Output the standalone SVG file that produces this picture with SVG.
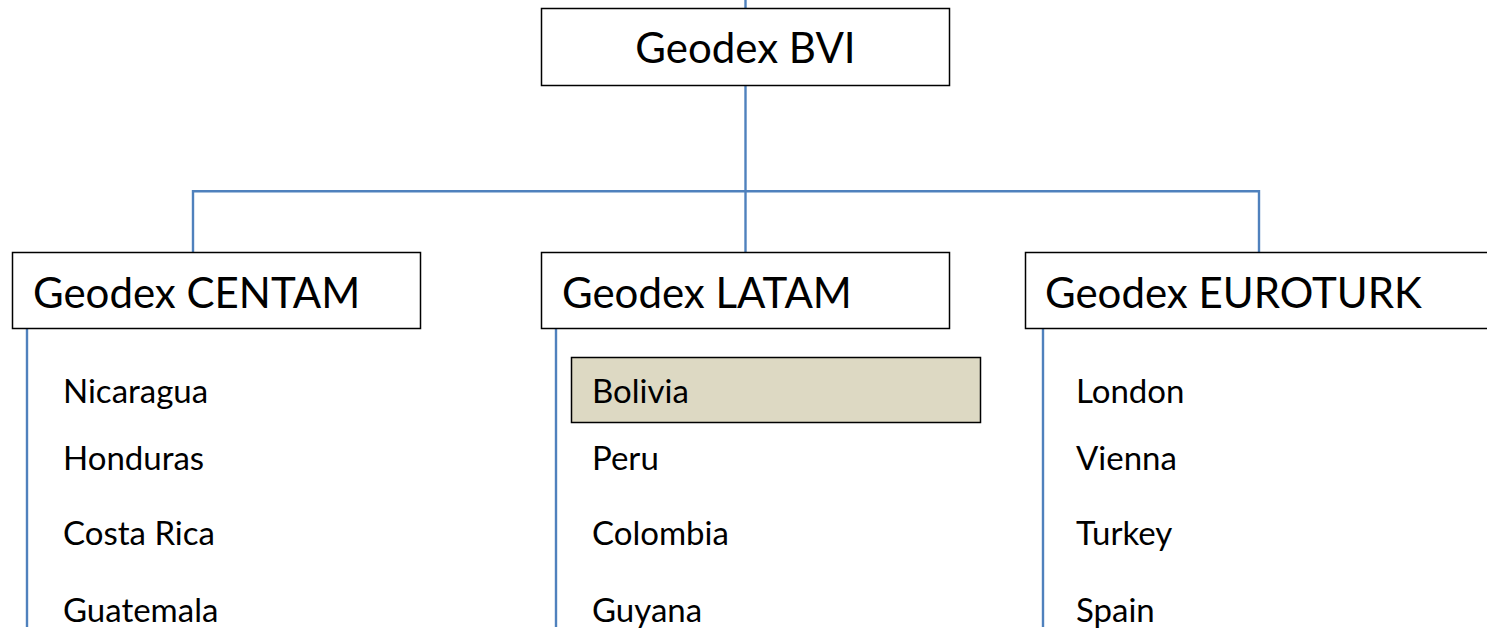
<svg xmlns="http://www.w3.org/2000/svg" width="1487" height="632" viewBox="0 0 1487 632">
<style>
.box{fill:#ffffff;stroke:#000000;stroke-width:1.5}
.hl{fill:#ddd9c3;stroke:#000000;stroke-width:1.5}
.hdr{font-family:Lato,"Open Sans",sans-serif;font-size:42px;fill:#000000}
.item{font-family:Lato,"Open Sans",sans-serif;font-size:33px;fill:#000000}
.conn{fill:none;stroke:#4f81bd;stroke-width:2.4}
</style>
<rect width="1487" height="632" fill="#ffffff"/>
<g id="connectors">
<path class="conn" d="M745.5 0 V8"/>
<path class="conn" d="M745.5 86 V252"/>
<path class="conn" d="M193 252 V191.3 H1259 V252"/>
<path class="conn" d="M27 329 V627"/>
<path class="conn" d="M556 329 V627"/>
<path class="conn" d="M1043 329 V627"/>
</g>
<g id="bvi">
<rect class="box" x="541.5" y="8.5" width="408" height="77"/>
<text class="hdr" x="745.5" y="63" text-anchor="middle">Geodex BVI</text>
</g>
<g id="centam">
<rect class="box" x="12.5" y="252.5" width="408" height="76"/>
<text class="hdr" x="33" y="308">Geodex CENTAM</text>
</g>
<g id="latam">
<rect class="box" x="541.5" y="252.5" width="408" height="76"/>
<text class="hdr" x="562" y="308">Geodex LATAM</text>
</g>
<g id="euroturk">
<rect class="box" x="1025.5" y="252.5" width="470" height="76"/>
<text class="hdr" x="1045" y="308">Geodex EUROTURK</text>
</g>
<g id="centam-items">
<text class="item" x="63" y="403">Nicaragua</text>
<text class="item" x="63" y="470">Honduras</text>
<text class="item" x="63" y="545">Costa Rica</text>
<text class="item" x="63" y="622">Guatemala</text>
</g>
<g id="bolivia">
<rect class="hl" x="571.5" y="357.5" width="409" height="65"/>
<text class="item" x="592" y="403">Bolivia</text>
</g>
<g id="latam-items">
<text class="item" x="592" y="470">Peru</text>
<text class="item" x="592" y="545">Colombia</text>
<text class="item" x="592" y="622">Guyana</text>
</g>
<g id="euro-items">
<text class="item" x="1076" y="403">London</text>
<text class="item" x="1076" y="470">Vienna</text>
<text class="item" x="1076" y="545">Turkey</text>
<text class="item" x="1076" y="622">Spain</text>
</g>
</svg>
